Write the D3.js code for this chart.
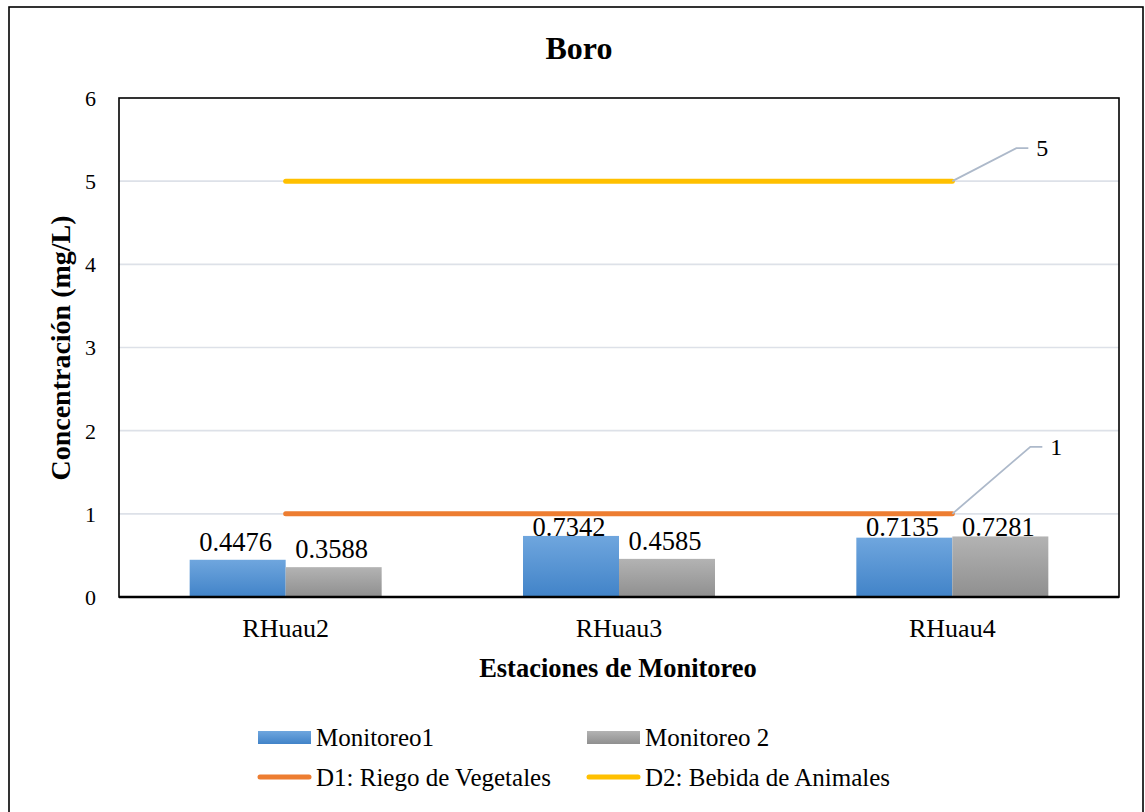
<!DOCTYPE html>
<html>
<head>
<meta charset="utf-8">
<script src="https://cdn.jsdelivr.net/npm/d3@7"></script>
<style>
  html, body { margin: 0; padding: 0; background: #fff; }
  svg text { font-family: "Liberation Serif", "Times New Roman", Tinos, "DejaVu Serif", serif !important; }
</style>
</head>
<body>
<svg id="chart" width="1145" height="812"></svg>
<script>
// Stations and measured boron concentrations (mg/L)
const stations = ["RHuau2", "RHuau3", "RHuau4"];
const seriesNames = ["Monitoreo1", "Monitoreo 2"];
const monitoreo1 = [0.4476, 0.7342, 0.7135];
const monitoreo2 = [0.3588, 0.4585, 0.7281];
// Reference limits
const limitNames = ["D1: Riego de Vegetales", "D2: Bebida de Animales"];
const limitValues = [1, 5];
const yTicks = [0, 1, 2, 3, 4, 5, 6];

const svg = d3.select("#chart");
const plot = { left: 119, top: 98, right: 1119, bottom: 597 };

// Gradients for bars
const defs = svg.append("defs");
function grad(id, top, bottom) {
  const g = defs.append("linearGradient").attr("id", id)
    .attr("x1", 0).attr("y1", 0).attr("x2", 0).attr("y2", 1);
  g.append("stop").attr("offset", "0%").attr("stop-color", top);
  g.append("stop").attr("offset", "100%").attr("stop-color", bottom);
}
grad("gBlue", "#6fa6de", "#4183c8");
grad("gGray", "#b3b3b3", "#8f8f8f");
const fills = ["url(#gBlue)", "url(#gGray)"];
const lineColors = ["#ed7d31", "#ffc000"];

// Outer frame
svg.append("rect").attr("x", 9).attr("y", 7).attr("width", 1134).attr("height", 820)
  .attr("fill", "#fff").attr("stroke", "#000").attr("stroke-width", 1.6);

const y = d3.scaleLinear().domain([0, 6]).range([plot.bottom, plot.top]);
const x = d3.scaleBand().domain(stations).range([plot.left, plot.right]).padding(0);
const xs = d3.scaleBand().domain(seriesNames).range([-96, 96]).padding(0);

// Gridlines
svg.append("g").selectAll("line").data(yTicks.filter(t => t > 0 && t < 6)).join("line")
  .attr("x1", plot.left).attr("x2", plot.right)
  .attr("y1", d => y(d)).attr("y2", d => y(d))
  .attr("stroke", "#dde1e8").attr("stroke-width", 1.6);

// Y axis tick labels
const yAxis = d3.axisLeft(y).tickValues(yTicks).tickSize(0).tickPadding(0).tickFormat(d3.format("d"));
const gy = svg.append("g").attr("transform", `translate(${plot.left - 23},0)`).call(yAxis);
gy.select(".domain").remove();
gy.selectAll("text").attr("font-size", 22).attr("fill", "#000").attr("dy", "0.34em");

// X axis category labels
const xAxis = d3.axisBottom(x).tickSize(0).tickPadding(0);
const gx = svg.append("g").attr("transform", `translate(0,${plot.bottom + 40})`).call(xAxis);
gx.select(".domain").remove();
gx.selectAll("text").attr("font-size", 26).attr("fill", "#000").attr("dy", 0);

// Bars
const series = [monitoreo1, monitoreo2];
const barData = [];
stations.forEach((s, i) => series.forEach((vals, k) => barData.push({ s, k, v: vals[i] })));
svg.append("g").selectAll("rect").data(barData).join("rect")
  .attr("x", d => x(d.s) + x.bandwidth() / 2 + xs(seriesNames[d.k]))
  .attr("width", xs.bandwidth())
  .attr("y", d => y(d.v))
  .attr("height", d => y(0) - y(d.v))
  .attr("fill", d => fills[d.k]);

// Limit lines
const cx = s => x(s) + x.bandwidth() / 2;
limitValues.forEach((v, i) => {
  svg.append("line")
    .attr("x1", cx(stations[0])).attr("x2", cx(stations[stations.length - 1]))
    .attr("y1", y(v)).attr("y2", y(v))
    .attr("stroke", lineColors[i]).attr("stroke-width", 5).attr("stroke-linecap", "round");
});

// Bar value labels, kept clear of the lower limit line
const lowLineY = y(d3.min(limitValues));
svg.append("g").selectAll("text").data(barData).join("text")
  .attr("x", d => x(d.s) + x.bandwidth() / 2 + xs(seriesNames[d.k]) + xs.bandwidth() / 2 - 2)
  .attr("y", d => {
    const top = y(d.v);
    return Math.max(top - 9, Math.min(top + 2, lowLineY + 22));
  })
  .attr("text-anchor", "middle").attr("font-size", 26.5).attr("fill", "#000")
  .text(d => d.v.toFixed(4));

// Limit value callouts with leader lines
const lastX = cx(stations[stations.length - 1]);
const callouts = [
  { v: limitValues[0], dx: 78, dy: -67 },
  { v: limitValues[1], dx: 64, dy: -33 }
];
callouts.forEach(c => {
  const x0 = lastX, y0 = y(c.v);
  const x1 = x0 + c.dx, y1 = y0 + c.dy;
  svg.append("polyline")
    .attr("points", `${x0},${y0} ${x1},${y1} ${x1 + 12},${y1}`)
    .attr("fill", "none").attr("stroke", "#adb9ca").attr("stroke-width", 1.8);
  svg.append("text").attr("x", x1 + 20).attr("y", y1).attr("dy", "0.34em")
    .attr("font-size", 24).attr("fill", "#000").text(d3.format("d")(c.v));
});

// Plot area border
svg.append("rect").attr("x", plot.left).attr("y", plot.top)
  .attr("width", plot.right - plot.left).attr("height", plot.bottom - plot.top)
  .attr("fill", "none").attr("stroke", "#000").attr("stroke-width", 1.6);
svg.append("line").attr("x1", plot.left).attr("x2", plot.right)
  .attr("y1", plot.bottom).attr("y2", plot.bottom)
  .attr("stroke", "#000").attr("stroke-width", 2.5);

// Titles
svg.append("text").attr("x", 579).attr("y", 59).attr("text-anchor", "middle")
  .attr("font-size", 32).attr("font-weight", "bold").text("Boro");
svg.append("text").attr("x", 618).attr("y", 677).attr("text-anchor", "middle")
  .attr("font-size", 26.5).attr("font-weight", "bold").text("Estaciones de Monitoreo");
svg.append("text").attr("transform", "translate(70,348) rotate(-90)")
  .attr("text-anchor", "middle").attr("font-size", 28).attr("font-weight", "bold")
  .text("Concentración (mg/L)");

// Legend
const legendCols = [258, 587];
const legendRows = [737, 777];
seriesNames.forEach((name, i) => {
  svg.append("rect").attr("x", legendCols[i]).attr("y", legendRows[0] - 6)
    .attr("width", 53).attr("height", 13).attr("fill", fills[i]);
  svg.append("text").attr("x", legendCols[i] + 58).attr("y", legendRows[0]).attr("dy", "0.34em")
    .attr("font-size", 25).text(name);
});
limitNames.forEach((name, i) => {
  svg.append("line").attr("x1", legendCols[i] + 2).attr("x2", legendCols[i] + 51)
    .attr("y1", legendRows[1]).attr("y2", legendRows[1])
    .attr("stroke", lineColors[i]).attr("stroke-width", 5).attr("stroke-linecap", "round");
  svg.append("text").attr("x", legendCols[i] + 58).attr("y", legendRows[1]).attr("dy", "0.34em")
    .attr("font-size", 25).text(name);
});
</script>
</body>
</html>
